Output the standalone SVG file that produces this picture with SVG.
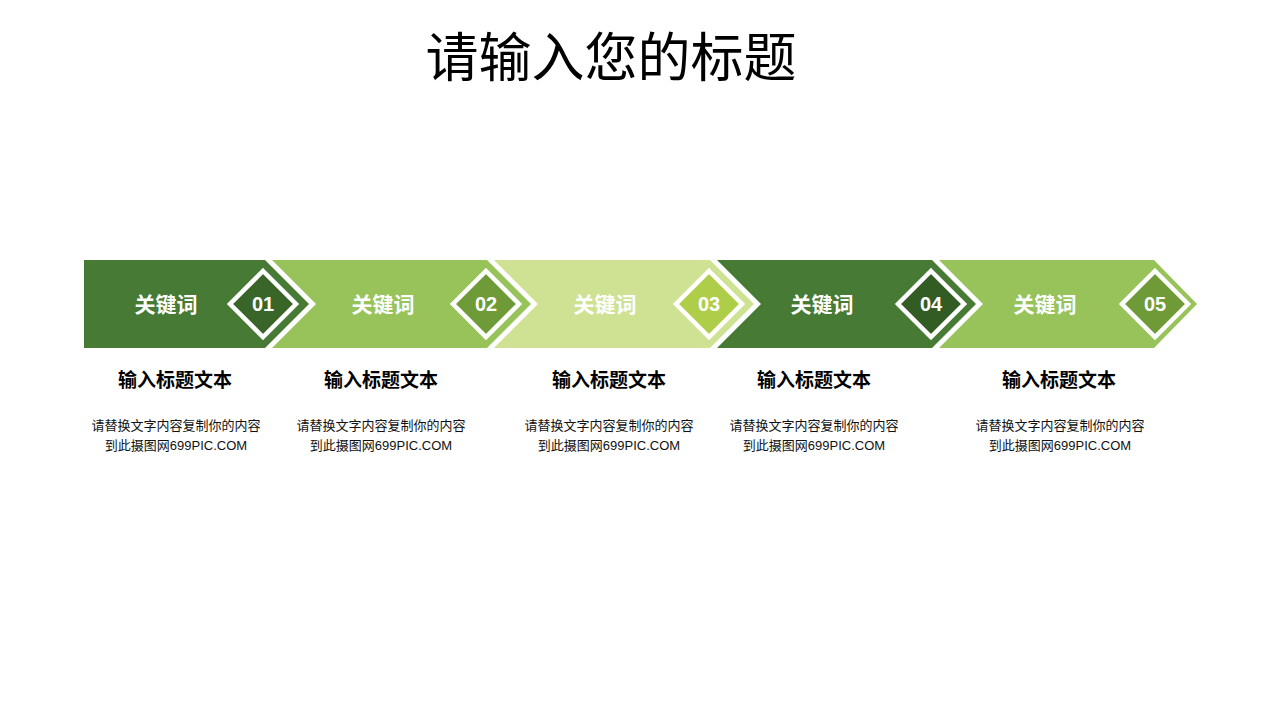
<svg xmlns="http://www.w3.org/2000/svg" width="1280" height="720" viewBox="0 0 1280 720">
<style>
.title{font-family:"Noto Sans CJK SC","Noto Sans",sans-serif;font-size:53px;fill:#000;text-anchor:middle}
.kw{font-family:"Noto Sans CJK SC",sans-serif;font-size:21px;font-weight:bold;fill:#fff;text-anchor:middle}
.num{font-family:"Liberation Sans",Arial,sans-serif;font-size:20px;font-weight:bold;fill:#fff;text-anchor:middle}
.sub{font-family:"Noto Sans CJK SC",sans-serif;font-size:19px;font-weight:bold;fill:#000;text-anchor:middle}
.desc{font-family:"Liberation Sans","Noto Sans CJK SC",sans-serif;font-size:13px;fill:#111;text-anchor:middle}
.dia{stroke:#fff;stroke-width:4.5}
</style>
<rect width="1280" height="720" fill="#fff"/>
<text class="title" x="611" y="77">请输入您的标题</text>

<g id="step1">
<polygon points="84,260 265,260 309,304 265,348 84,348" fill="#477A34"/>
<text class="kw" x="166" y="312">关键词</text>
<polygon class="dia" points="263,271 296,304 263,337 230,304" fill="#3A6529"/>
<text class="num" x="263" y="311">01</text>
<text class="sub" x="175" y="387">输入标题文本</text>
<text class="desc" x="176" y="430">请替换文字内容复制你的内容</text>
<text class="desc" x="176" y="450">到此摄图网699PIC.COM</text>
</g>

<g id="step2">
<polygon points="272,260 487,260 531,304 487,348 272,348 316,304" fill="#98C35B"/>
<text class="kw" x="383" y="312">关键词</text>
<polygon class="dia" points="486,271 519,304 486,337 453,304" fill="#6E9A37"/>
<text class="num" x="486" y="311">02</text>
<text class="sub" x="381" y="387">输入标题文本</text>
<text class="desc" x="381" y="430">请替换文字内容复制你的内容</text>
<text class="desc" x="381" y="450">到此摄图网699PIC.COM</text>
</g>

<g id="step3">
<polygon points="494,260 710,260 754,304 710,348 494,348 538,304" fill="#CFE294"/>
<text class="kw" x="605" y="312">关键词</text>
<polygon class="dia" points="709,271 742,304 709,337 676,304" fill="#AECE49"/>
<text class="num" x="709" y="311">03</text>
<text class="sub" x="609" y="387">输入标题文本</text>
<text class="desc" x="609" y="430">请替换文字内容复制你的内容</text>
<text class="desc" x="609" y="450">到此摄图网699PIC.COM</text>
</g>

<g id="step4">
<polygon points="717,260 932,260 976,304 932,348 717,348 761,304" fill="#477A34"/>
<text class="kw" x="822" y="312">关键词</text>
<polygon class="dia" points="931,271 964,304 931,337 898,304" fill="#335C25"/>
<text class="num" x="931" y="311">04</text>
<text class="sub" x="814" y="387">输入标题文本</text>
<text class="desc" x="814" y="430">请替换文字内容复制你的内容</text>
<text class="desc" x="814" y="450">到此摄图网699PIC.COM</text>
</g>

<g id="step5">
<polygon points="939,260 1154,260 1197,304 1154,348 939,348 983,304" fill="#98C35B"/>
<text class="kw" x="1045" y="312">关键词</text>
<polygon class="dia" points="1155,271 1188,304 1155,337 1122,304" fill="#6E9A37"/>
<text class="num" x="1155" y="311">05</text>
<text class="sub" x="1059" y="387">输入标题文本</text>
<text class="desc" x="1060" y="430">请替换文字内容复制你的内容</text>
<text class="desc" x="1060" y="450">到此摄图网699PIC.COM</text>
</g>
</svg>
